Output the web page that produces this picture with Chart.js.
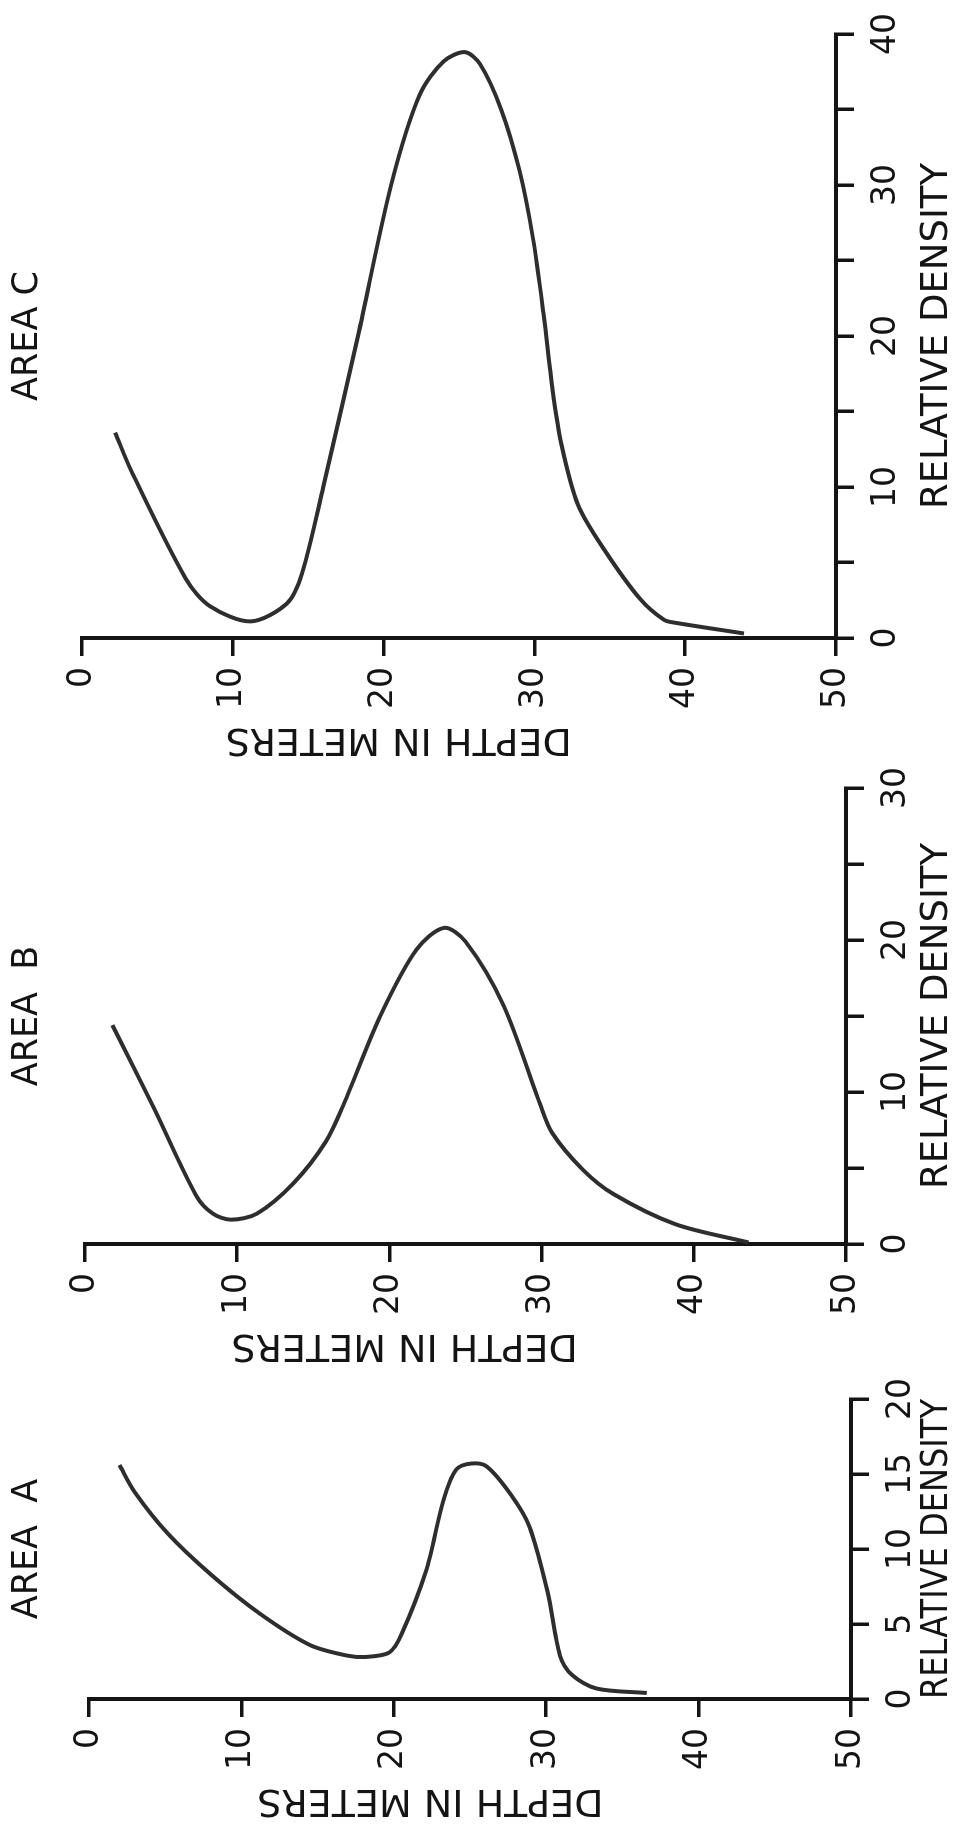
<!DOCTYPE html>
<html>
<head>
<meta charset="utf-8">
<title>Relative density by depth</title>
<script src="https://cdn.jsdelivr.net/npm/chart.js@4.4.1/dist/chart.umd.min.js"></script>
<style>
  html, body { margin: 0; padding: 0; background: #fff; }
  body { width: 964px; height: 1827px; overflow: hidden; position: relative; }
  /* the sheet is drawn landscape and turned a quarter turn, like the scanned page */
  #sheet { position: absolute; left: 0; top: 0; width: 1827px; height: 964px;
           transform-origin: 0 0; transform: translateY(1827px) rotate(-90deg); }
  #sheet canvas { position: absolute; top: 0; }
</style>
</head>
<body>
<div id="sheet">
  <canvas id="chartA" width="500" height="964" style="left:0px"></canvas>
  <canvas id="chartB" width="660" height="964" style="left:440px"></canvas>
  <canvas id="chartC" width="787" height="964" style="left:1040px"></canvas>
</div>
<script>
// depth in meters / relative density
const depthA   = [2.0, 3.0, 5.2, 8.0, 11.2, 14.5, 16.9, 18.1, 19.7, 20.5, 22.1, 23.3, 24.1, 25.1, 26.1, 27.7, 28.9, 30.1, 30.9, 31.7, 33.3, 36.6];
const densityA = [15.6, 13.8, 11.0, 8.3, 5.7, 3.6, 2.9, 2.8, 3.1, 4.3, 8.5, 13.4, 15.3, 15.7, 15.5, 13.6, 11.5, 7.1, 2.9, 1.6, 0.7, 0.4];

const depthB   = [1.8, 4.5, 7.3, 8.4, 9.6, 11.3, 13.7, 15.8, 17.0, 19.4, 21.8, 23.6, 25.0, 27.5, 29.9, 30.7, 32.7, 34.7, 38.8, 43.6];
const densityB = [14.4, 9.0, 3.2, 2.0, 1.6, 2.0, 4.0, 6.7, 9.2, 15.0, 19.4, 20.8, 19.9, 15.7, 9.2, 7.3, 4.9, 3.3, 1.3, 0.1];

const depthC   = [2.2, 3.3, 6.9, 8.5, 11.2, 13.6, 14.6, 16.0, 18.3, 20.5, 22.4, 24.0, 25.4, 26.4, 27.8, 29.0, 29.9, 30.6, 31.2, 31.8, 32.9, 34.6, 37.0, 38.6, 39.4, 43.9];
const densityC = [13.6, 11.0, 3.9, 2.1, 1.1, 2.3, 4.3, 10.0, 20.0, 30.0, 36.0, 38.2, 38.8, 38.0, 35.0, 31.0, 26.5, 21.5, 16.5, 12.8, 8.8, 5.9, 2.6, 1.2, 1.0, 0.3];

// axis ranges and which density ticks carry a number
const depthRange = [0, 50];
const densityMax = { A: 20, B: 30, C: 40 };
const densityLabelsA = [0, 5, 10, 15, 20];
const densityLabelsB = [0, 10, 20, 30];
const densityLabelsC = [0, 10, 20, 30, 40];

const INK = '#141414';
const FONT = "'DejaVu Sans', 'Liberation Sans', sans-serif";
Chart.defaults.font.family = FONT;
Chart.defaults.color = INK;

// y axis title is drawn by hand so it can sit a bit toward the surface end
const depthTitle = {
  id: 'depthTitle',
  afterDraw(chart, args, opts) {
    const ctx = chart.ctx;
    const cy = chart.scales.y.getPixelForValue(opts.at);
    ctx.save();
    ctx.translate(chart.chartArea.left - opts.offset, cy);
    ctx.rotate(-Math.PI / 2);
    ctx.font = '38px ' + FONT;
    ctx.fillStyle = INK;
    ctx.textAlign = 'center';
    ctx.textBaseline = 'middle';
    ctx.fillText(opts.text, 0, 0);
    ctx.restore();
  }
};

// layout of the three panels on the landscape sheet (pixels)
const panels = [
  { id: 'chartA', name: 'AREA  A', depth: depthA, density: densityA, max: densityMax.A, labels: densityLabelsA,
    canvasLeft: 0, canvasWidth: 500, left: 128, right: 428, top: 89, bottom: 851, titleAt: 22.4 },
  { id: 'chartB', name: 'AREA  B', depth: depthB, density: densityB, max: densityMax.B, labels: densityLabelsB,
    canvasLeft: 440, canvasWidth: 660, left: 583, right: 1039, top: 85, bottom: 846, titleAt: 21 },
  { id: 'chartC', name: 'AREA C', depth: depthC, density: densityC, max: densityMax.C, labels: densityLabelsC,
    canvasLeft: 1040, canvasWidth: 787, left: 1189, right: 1794, top: 82, bottom: 836, titleAt: 21 }
];

function makePanel(p) {
  const points = p.depth.map((d, i) => ({ x: p.density[i], y: d }));
  const tickGrid = { drawOnChartArea: false, drawTicks: true, tickLength: 18, color: INK, lineWidth: 3.5 };
  const axisBorder = { display: true, color: INK, width: 4 };

  return new Chart(document.getElementById(p.id), {
    type: 'scatter',
    data: {
      datasets: [{
        data: points,
        showLine: true,
        borderColor: '#2e2e2e',
        borderWidth: 4,
        pointRadius: 0,
        tension: 0.3,
        fill: false
      }]
    },
    options: {
      responsive: false,
      animation: false,
      devicePixelRatio: 1,
      layout: { padding: { left: 0, top: 0, bottom: 0, right: p.canvasLeft + p.canvasWidth - p.right } },
      plugins: {
        legend: { display: false },
        tooltip: { enabled: false },
        title: {
          display: true,
          text: p.name,
          fullSize: false,
          color: INK,
          font: { size: 35, weight: 'normal', lineHeight: 1.2 },
          padding: { top: 7, bottom: p.top - 7 - 42 }
        },
        depthTitle: { text: 'DEPTH IN METERS', at: p.titleAt, offset: 101 }
      },
      scales: {
        x: {
          type: 'linear',
          position: 'bottom',
          min: 0,
          max: p.max,
          ticks: {
            stepSize: 5,
            autoSkip: false,
            maxRotation: 0,
            padding: 13,
            color: INK,
            font: { size: 33 },
            callback: (v) => p.labels.includes(v) ? String(v) : ''
          },
          grid: tickGrid,
          border: axisBorder,
          title: { display: true, text: 'RELATIVE DENSITY', color: INK, font: { size: 37 }, padding: { top: 0, bottom: 4 } },
          afterFit: (s) => { s.height = 964 - p.bottom; }
        },
        y: {
          type: 'linear',
          position: 'left',
          reverse: true,
          min: depthRange[0],
          max: depthRange[1],
          ticks: { stepSize: 10, padding: 11, color: INK, font: { size: 33 } },
          grid: tickGrid,
          border: axisBorder,
          afterFit: (s) => { s.width = p.left - p.canvasLeft; }
        }
      }
    },
    plugins: [depthTitle]
  });
}

panels.forEach(makePanel);
</script>
</body>
</html>
